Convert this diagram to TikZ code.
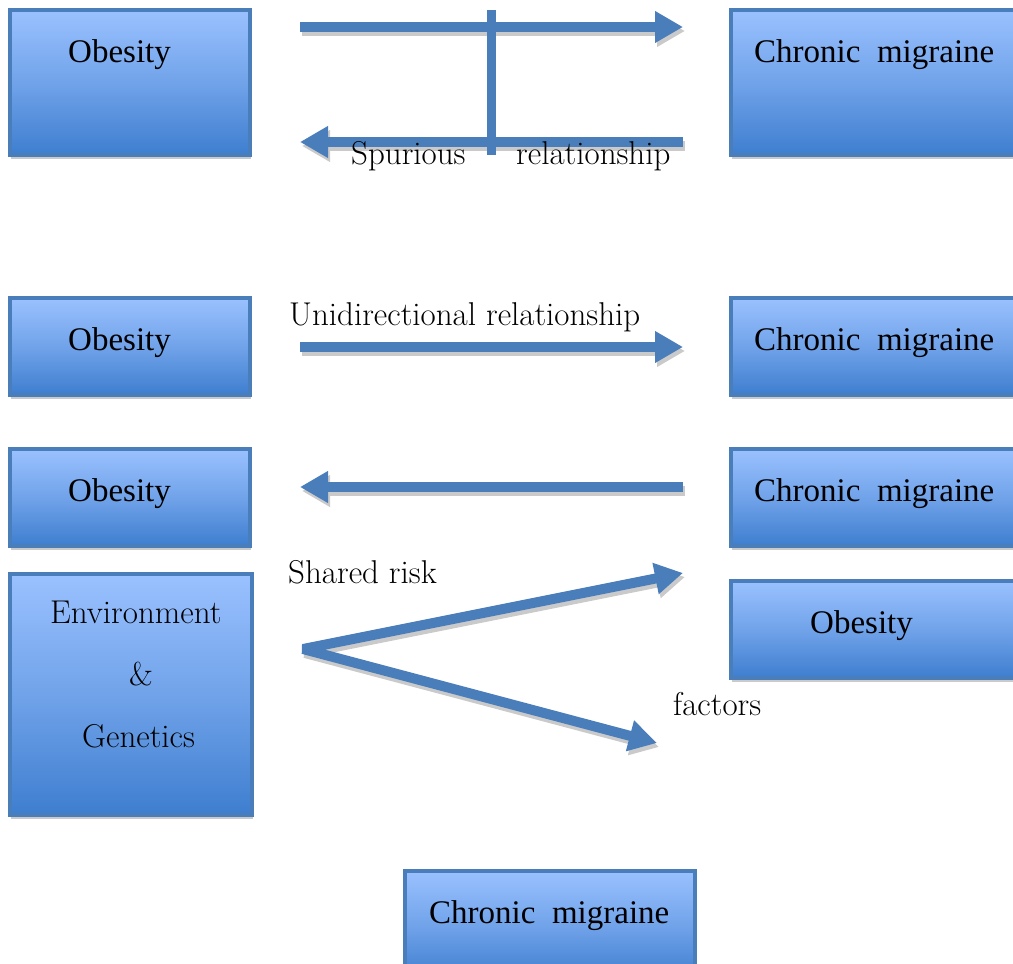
\documentclass[tikz,border=0pt]{standalone}
\usepackage{fontspec}
\newfontfamily\boxfont{Liberation Serif}
\usetikzlibrary{arrows.meta}

\definecolor{edgeblue}{HTML}{4A7EBB}
\definecolor{topblue}{HTML}{9AC1FF}
\definecolor{botblue}{HTML}{3E7ECF}
\definecolor{shadowgray}{HTML}{CACACA}

\tikzset{
  panel/.style={draw=edgeblue, line width=3.5pt, top color=topblue,
    bottom color=botblue, middle color=topblue!55!botblue, inner sep=0pt, outer sep=0pt},
  boxtxt/.style={font=\boxfont\fontsize{33}{38}\selectfont, inner sep=0pt, anchor=base west},
  labeltxt/.style={font=\fontsize{33}{38}\selectfont, inner sep=0pt, anchor=base west},
  flowline/.style={draw=edgeblue, line width=10pt, line join=bevel,
    -{Triangle[length=28pt,width=30pt]}},
  flowshadow/.style={flowline, draw=shadowgray},
  twoway/.style={draw=edgeblue, line width=10pt, line join=bevel,
    {Triangle[length=28pt,width=30pt]}-{Triangle[length=28pt,width=30pt]}},
  twowayshadow/.style={twoway, draw=shadowgray}
}

% box with a soft grey drop edge: name, x1, y1, x2, y2
\newcommand\panelbox[5]{%
  \fill[shadowgray] (#2+1,#3+4) rectangle (#4+1,#5+4);
  \node[panel, minimum width={(#4-#2)*1pt}, minimum height={(#5-#3)*1pt}]
    (#1) at ({(#2+#4)/2},{(#3+#5)/2}) {};
}
% straight arrow with its shadow, between two named coordinates
\newcommand\flow[2]{%
  \draw[flowshadow] ([shift={(2,4)}]#1) -- ([shift={(2,4)}]#2);
  \draw[flowline] (#1) -- (#2);
}

\begin{document}
\begin{tikzpicture}[x=1pt, y=-1pt]
\useasboundingbox (0,0) rectangle (1013,964);
\clip (0,0) rectangle (1013,964);

% ---- spurious relationship ----
\panelbox{obA}{10}{10}{250}{155}
\panelbox{cmA}{731}{10}{1030}{155}
\node[boxtxt] (obAt) at (68,62) {Obesity};
\node[boxtxt] (cmAt) at (754,62) {Chronic\ \ migraine};

\coordinate (sA1) at (300,27);
\coordinate (sA2) at (683,27);
\coordinate (sB1) at (683,142);
\coordinate (sB2) at (300,142);
\flow{sA1}{sA2}
\flow{sB1}{sB2}
\fill[edgeblue] (487,10) rectangle (496,155);
\node[labeltxt] (spur) at (351,164) {Spurious};
\node[labeltxt] (rel) at (516,164) {relationship};

% ---- unidirectional relationship ----
\panelbox{obB}{10}{298}{250}{395}
\panelbox{cmB}{731}{298}{1030}{395}
\node[boxtxt] (obBt) at (68,350) {Obesity};
\node[boxtxt] (cmBt) at (754,350) {Chronic\ \ migraine};
\node[labeltxt] (uni) at (289,325) {Unidirectional relationship};
\coordinate (uA1) at (300,347);
\coordinate (uA2) at (683,347);
\flow{uA1}{uA2}

% ---- reverse direction ----
\panelbox{obC}{10}{449}{250}{546}
\panelbox{cmC}{731}{449}{1030}{546}
\node[boxtxt] (obCt) at (68,501) {Obesity};
\node[boxtxt] (cmCt) at (754,501) {Chronic\ \ migraine};
\coordinate (rA1) at (683,487);
\coordinate (rA2) at (300,487);
\flow{rA1}{rA2}

% ---- shared risk factors ----
\panelbox{env}{10}{574}{252}{815}
\node[labeltxt] (envt1) at (50,623) {Environment};
\node[labeltxt] (envt2) at (129,685) {\&};
\node[labeltxt] (envt3) at (82,747) {Genetics};

\panelbox{obD}{731}{581}{1030}{678}
\node[boxtxt] (obDt) at (810,633) {Obesity};

\panelbox{cmD}{405}{871}{695}{980}
\node[boxtxt] (cmDt) at (429,923) {Chronic\ \ migraine};

\node[labeltxt] (shr) at (288,583) {Shared risk};
\node[labeltxt] (fac) at (673,715) {factors};

\coordinate (vUp) at (683,573);
\coordinate (vMid) at (303,649);
\coordinate (vLow) at (657,743);
\draw[twowayshadow] ([shift={(2,4)}]vUp) -- ([shift={(2,4)}]vMid) -- ([shift={(2,4)}]vLow);
\draw[twoway] (vUp) -- (vMid) -- (vLow);
\end{tikzpicture}
\end{document}
